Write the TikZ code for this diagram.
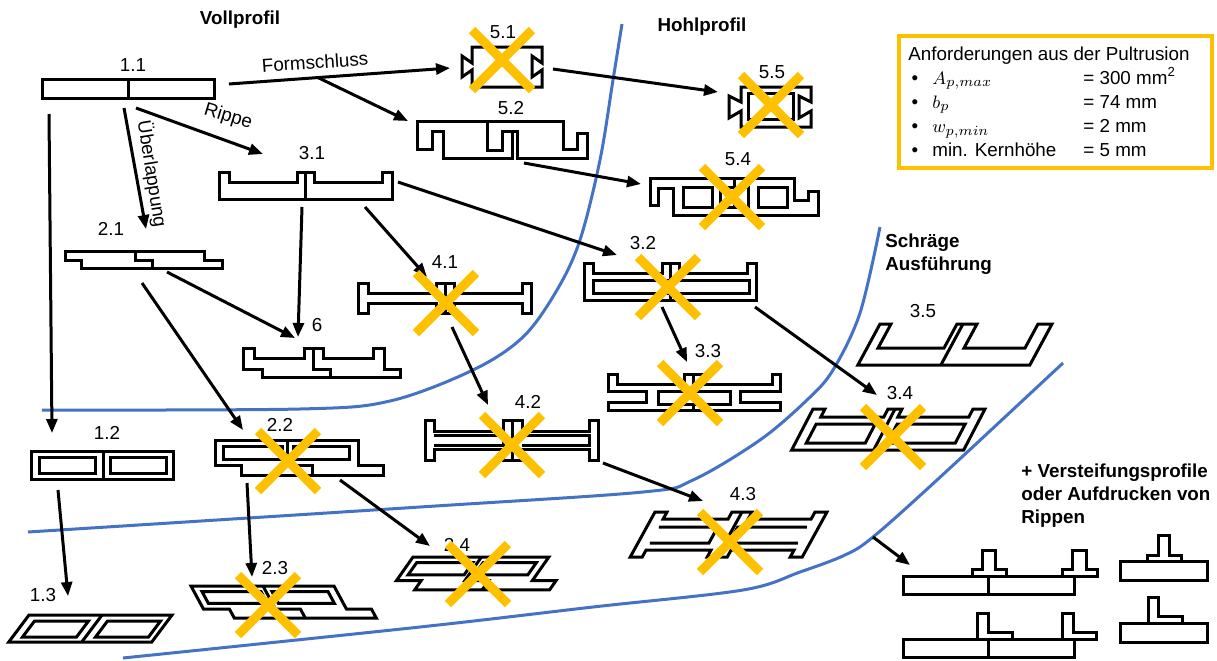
\documentclass[tikz,border=0pt]{standalone}
\usepackage{fontspec}
\setmainfont{Liberation Sans}
\usetikzlibrary{arrows.meta}
\definecolor{xblue}{RGB}{68,114,196}
\definecolor{xorange}{RGB}{255,192,0}
\newcommand\famTwo{%
  \draw[prof] (0,0) -- (143,0) -- (143,25) -- (168,25) -- (168,35) -- (26,35) -- (26,25) -- (0,25) -- cycle;
  \draw[prof] (8,6) -- (67,6) -- (67,19) -- (8,19) -- cycle;
  \draw[prof] (78,6) -- (134,6) -- (134,19) -- (78,19) -- cycle;
  \draw[prof] (72,0) -- (72,25) -- (97,25) -- (97,35);}
\begin{document}
\begin{tikzpicture}[x=0.5pt,y=-0.5pt,
  prof/.style={draw=black, line width=1.5pt, line join=miter},
  arr/.style={draw=black, line width=1.5pt, -{Triangle[length=7pt,width=5.5pt]}},
  cross/.style={draw=xorange, line width=4.5pt},
  bound/.style={draw=xblue, line width=1.5pt},
  lbl/.style={font=\fontsize{9.4}{11}\selectfont, inner sep=0pt},
  head/.style={font=\bfseries\fontsize{9.4}{11.4}\selectfont, inner sep=0pt, align=left}]
\useasboundingbox (0,0) rectangle (1217,660);

% ---------- boundaries ----------
\draw[bound] plot[smooth, tension=0.55] coordinates {(42,410) (300,409) (390,401) (473,370) (523,337) (557,290) (580,240) (600,160) (613,80) (622,24)};
\draw[bound] plot[smooth, tension=0.55] coordinates {(28,532) (420,507) (643,492) (693,480) (760,440) (807,400) (833,370) (860,313) (880,227)};
\draw[bound] plot[smooth, tension=0.55] coordinates {(123,658) (420,627) (593,607) (743,590) (800,572) (845,555) (873,537) (937,480) (1063,363)};

% ---------- headings ----------
\node[head] (hvoll) at (240,20) {Vollprofil};
\node[head] (hhohl) at (702,27) {Hohlprofil};
\node[head, anchor=west] (hschr) at (885,254.5) {Schräge\\Ausführung};
\node[head, anchor=west] (hverst) at (1021,495.5) {+ Versteifungsprofile\\oder Aufdrucken von\\Rippen};

% ---------- requirement box ----------
\draw[xorange, line width=1.8pt] (899,36) rectangle (1212,168);
\node[lbl, anchor=base west] (rq) at (908,60) {Anforderungen aus der Pultrusion};
\node[lbl, anchor=base] (rb1) at (915,84) {•};
\node[lbl, anchor=base] (rb2) at (915,108) {•};
\node[lbl, anchor=base] (rb3) at (915,132) {•};
\node[lbl, anchor=base] (rb4) at (915,156) {•};
\node[lbl, anchor=base west] (rm1) at (932,84) {$A_{p,max}$};
\node[lbl, anchor=base west] (rm2) at (932,108) {$b_p$};
\node[lbl, anchor=base west] (rm3) at (932,132) {$w_{p,min}$};
\node[lbl, anchor=base west] (rm4) at (932,156) {min. Kernhöhe};
\node[lbl, anchor=base west] (rv1) at (1083,84) {= 300 mm\textsuperscript{2}};
\node[lbl, anchor=base west] (rv2) at (1083,108) {= 74 mm};
\node[lbl, anchor=base west] (rv3) at (1083,132) {= 2 mm};
\node[lbl, anchor=base west] (rv4) at (1083,156) {= 5 mm};

% ---------- profiles ----------
% 1.1
\draw[prof] (42,79) rectangle (214,98);
\draw[prof] (128,79) -- (128,98);
% 2.1
\draw[prof] (65,251) -- (204,251) -- (204,260) -- (222,260) -- (222,268) -- (81,268) -- (81,260) -- (65,260) -- cycle;
\draw[prof] (135,251) -- (135,260) -- (152,260) -- (152,268);
% 3.1
\draw[prof] (219,199) -- (219,172) -- (229,172) -- (229,182) -- (297,182) -- (297,172) -- (314,172) -- (314,182) -- (382,182) -- (382,172) -- (392,172) -- (392,199) -- cycle;
\draw[prof] (305,172) -- (305,199);
% 6
\draw[prof] (243,348) -- (254,348) -- (254,358) -- (304,358) -- (304,348) -- (323,348) -- (323,358) -- (373,358) -- (373,348) -- (384,348) -- (384,369) -- (400,369) -- (400,377) -- (262,377) -- (262,369) -- (243,369) -- cycle;
\draw[prof] (313,348) -- (313,369) -- (330,369) -- (330,377);
% 1.2
\draw[prof] (31,451) rectangle (173,479);
\draw[prof] (103,451) -- (103,479);
\draw[prof] (39,457) rectangle (95,473);
\draw[prof] (110,457) rectangle (166,473);
% 1.3
\begin{scope}[shift={(29,615)}, xslant=0.75]
  \draw[prof] (0,0) -- (143,0) -- (143,27) -- (0,27) -- cycle;
  \draw[prof] (73,0) -- (73,27);
  \draw[prof] (10,6) -- (64,6) -- (64,22) -- (10,22) -- cycle;
  \draw[prof] (83,6) -- (136,6) -- (136,22) -- (83,22) -- cycle;
\end{scope}
% 2.2
\begin{scope}[shift={(215,440)}] \famTwo \end{scope}
% 2.3
\begin{scope}[shift={(191,586)}, xslant=-0.54, yscale=0.92] \famTwo \end{scope}
% 2.4
\begin{scope}[shift={(413,557)}, xslant=0.7, xscale=0.95, yscale=0.94] \famTwo \end{scope}
% 4.1
\draw[prof] (358,283) -- (368,283) -- (368,293) -- (436,293) -- (436,283) -- (454,283) -- (454,293) -- (522,293) -- (522,283) -- (531,283) -- (531,313) -- (522,313) -- (522,303) -- (454,303) -- (454,313) -- (436,313) -- (436,303) -- (368,303) -- (368,313) -- (358,313) -- cycle;
\draw[prof] (445,283) -- (445,313);
% 4.2
\draw[prof] (425,420) -- (434,420) -- (434,431) -- (503,431) -- (503,420) -- (522,420) -- (522,431) -- (589,431) -- (589,420) -- (598,420) -- (598,460) -- (589,460) -- (589,449) -- (522,449) -- (522,460) -- (503,460) -- (503,449) -- (434,449) -- (434,460) -- (425,460) -- cycle;
\draw[prof] (434,435) -- (503,435) -- (503,445) -- (434,445);
\draw[prof] (522,435) -- (589,435) -- (589,445) -- (522,445);
\draw[prof] (512,420) -- (512,460);
% 4.3
\begin{scope}[shift={(655,512)}, xslant=0.55]
  \draw[prof] (0,0) -- (12,0) -- (12,7) -- (77,7) -- (77,0) -- (97,0) -- (97,7) -- (160,7) -- (160,0) -- (172,0) -- (172,45) -- (160,45) -- (160,38) -- (97,38) -- (97,45) -- (77,45) -- (77,38) -- (12,38) -- (12,45) -- (0,45) -- cycle;
  \draw[prof] (12,15) -- (71,15) -- (71,31) -- (12,31);
  \draw[prof] (160,15) -- (91,15) -- (91,31) -- (160,31);
  \draw[prof] (87,0) -- (87,45);
\end{scope}
% 3.2
\draw[prof] (584,263) -- (593,263) -- (593,273) -- (662,273) -- (662,263) -- (679,263) -- (679,273) -- (747,273) -- (747,263) -- (756,263) -- (756,300) -- (584,300) -- cycle;
\draw[prof] (593,280) rectangle (749,293);
\draw[prof] (670,263) -- (670,300);
% 3.3
\draw[prof] (608,374) -- (617,374) -- (617,384) -- (684,384) -- (684,374) -- (703,374) -- (703,384) -- (772,384) -- (772,374) -- (780,374) -- (780,391) -- (740,391) -- (740,402) -- (780,402) -- (780,410) -- (608,410) -- (608,402) -- (646,402) -- (646,391) -- (608,391) -- cycle;
\draw[prof] (658,391) rectangle (730,404);
\draw[prof] (693,374) -- (693,391);
\draw[prof] (693,404) -- (693,410);
% 3.4
\begin{scope}[shift={(813,409)}, xslant=0.52]
  \draw[prof] (0,0) -- (12,0) -- (12,8) -- (75,8) -- (75,0) -- (89,0) -- (89,8) -- (160,8) -- (160,0) -- (172,0) -- (172,41) -- (0,41) -- cycle;
  \draw[prof] (11,15) -- (70,15) -- (70,34) -- (11,34) -- cycle;
  \draw[prof] (92,15) -- (160,15) -- (160,34) -- (92,34) -- cycle;
  \draw[prof] (82,0) -- (82,41);
\end{scope}
% 3.5
\begin{scope}[shift={(880,324)}, xslant=0.54]
  \draw[prof] (0,0) -- (11,0) -- (11,24) -- (77,24) -- (77,0) -- (97,0) -- (97,24) -- (158,24) -- (158,0) -- (172,0) -- (172,41) -- (0,41) -- cycle;
  \draw[prof] (83,0) -- (83,41);
\end{scope}
% 5.1
\draw[prof] (472,47) -- (542,47) -- (542,63) -- (532,56) -- (532,77) -- (542,70) -- (542,87) -- (472,87) -- (472,70) -- (462,77) -- (462,56) -- (472,63) -- cycle;
% 5.5
\draw[prof] (741,87) -- (811,87) -- (811,102) -- (799,96) -- (799,118) -- (811,111) -- (811,127) -- (741,127) -- (741,111) -- (729,118) -- (729,96) -- (741,102) -- cycle;
\draw[prof] (748,93) rectangle (793,119);
% 5.2
\draw[prof] (417,121) -- (563,121) -- (563,149) -- (577,149) -- (577,133) -- (587,133) -- (587,158) -- (517,158) -- (517,131) -- (512,131) -- (512,158) -- (443,158) -- (443,131) -- (432,131) -- (432,149) -- (417,149) -- cycle;
\draw[prof] (487,121) -- (487,150) -- (502,150) -- (502,131) -- (512,131);
% 5.4
\draw[prof] (650,178) -- (794,178) -- (794,200) -- (808,200) -- (808,191) -- (818,191) -- (818,215) -- (673,215) -- (673,188) -- (658,188) -- (658,205) -- (650,205) -- cycle;
\draw[prof] (683,187) rectangle (712,207);
\draw[prof] (720,187) rectangle (748,207);
\draw[prof] (758,187) rectangle (787,207);
\draw[prof] (734,178) -- (734,207);
% stiffening profiles
\draw[prof] (903,576) rectangle (1074,594);
\draw[prof] (988,576) -- (988,594);
\draw[prof] (972,576) -- (972,569) -- (982,569) -- (982,550) -- (995,550) -- (995,569) -- (1006,569) -- (1006,576);
\draw[prof] (1062,576) -- (1062,569) -- (1072,569) -- (1072,550) -- (1086,550) -- (1086,569) -- (1097,569) -- (1097,576) -- (1074,576);
\draw[prof] (903,639) rectangle (1074,657);
\draw[prof] (988,639) -- (988,657);
\draw[prof] (977,639) -- (977,613) -- (988,613) -- (988,632) -- (1012,632) -- (1012,639);
\draw[prof] (1062,639) -- (1062,613) -- (1073,613) -- (1073,632) -- (1096,632) -- (1096,639) -- (1074,639);
\draw[prof] (1120,561) rectangle (1207,580);
\draw[prof] (1147,561) -- (1147,555) -- (1158,555) -- (1158,535) -- (1169,535) -- (1169,555) -- (1181,555) -- (1181,561);
\draw[prof] (1120,623) rectangle (1207,642);
\draw[prof] (1148,623) -- (1148,597) -- (1158,597) -- (1158,616) -- (1182,616) -- (1182,623);

% ---------- labels ----------
\node[lbl] (n11) at (133,65) {1.1};
\node[lbl] (n21) at (111,229) {2.1};
\node[lbl] (n31) at (312,153) {3.1};
\node[lbl] (n6) at (317,325) {6};
\node[lbl] (n12) at (107,433) {1.2};
\node[lbl] (n22) at (280,425) {2.2};
\node[lbl] (n13) at (43,595) {1.3};
\node[lbl] (n23) at (275,568) {2.3};
\node[lbl] (n24) at (457,545) {2.4};
\node[lbl] (n41) at (445,262) {4.1};
\node[lbl] (n42) at (528,402) {4.2};
\node[lbl] (n43) at (743,494) {4.3};
\node[lbl] (n32) at (643,243) {3.2};
\node[lbl] (n33) at (708,351) {3.3};
\node[lbl] (n34) at (900,393) {3.4};
\node[lbl] (n35) at (923,311) {3.5};
\node[lbl] (n51) at (503,32) {5.1};
\node[lbl] (n52) at (511,108) {5.2};
\node[lbl] (n54) at (738,159) {5.4};
\node[lbl] (n55) at (772,72) {5.5};
\node[lbl, rotate=4] (tform) at (315,62) {Formschluss};
\node[lbl, rotate=-17] (tripp) at (228,117) {Rippe};
\node[lbl, rotate=-81] (tuebl) at (152,174) {Überlappung};

% ---------- arrows ----------
\coordinate (a1s) at (229,84);   \coordinate (a1e) at (450,68);
\coordinate (a2s) at (318,77.6); \coordinate (a2e) at (408,121);
\coordinate (a3s) at (136,108);  \coordinate (a3e) at (263,154);
\coordinate (a4s) at (124,108);  \coordinate (a4e) at (146,229);
\coordinate (a5s) at (49,114);   \coordinate (a5e) at (52,433);
\coordinate (a6s) at (553,69);   \coordinate (a6e) at (718,92);
\coordinate (a7s) at (524,163);  \coordinate (a7e) at (641,184);
\coordinate (a8s) at (398,182);  \coordinate (a8e) at (617,255);
\coordinate (a9s) at (365,207);  \coordinate (a9e) at (427,277);
\coordinate (a10s) at (302,207); \coordinate (a10e) at (298,337);
\coordinate (a11s) at (167,272); \coordinate (a11e) at (295,338);
\coordinate (a12s) at (142,283); \coordinate (a12e) at (243,430);
\coordinate (a13s) at (452,327); \coordinate (a13e) at (488,405);
\coordinate (a14s) at (662,307); \coordinate (a14e) at (687,362);
\coordinate (a15s) at (755,307); \coordinate (a15e) at (877,395);
\coordinate (a16s) at (603,463); \coordinate (a16e) at (703,501);
\coordinate (a17s) at (58,490);  \coordinate (a17e) at (68,596);
\coordinate (a18s) at (247,483); \coordinate (a18e) at (252,577);
\coordinate (a19s) at (340,480); \coordinate (a19e) at (430,546);
\coordinate (a20s) at (873,537); \coordinate (a20e) at (910,565);
\foreach \i in {1,...,20} {\draw[arr] (a\i s) -- (a\i e);}

% ---------- crosses ----------
\foreach \xa/\ya in {472/30, 741/75, 702/167, 416/273, 638/257, 660/363, 482/415, 863/407, 258/431, 238/575, 448/544, 700/512} {
  \draw[cross] (\xa,\ya) -- ++(60,60);
  \draw[cross] (\xa+60,\ya) -- ++(-60,60);
}
\end{tikzpicture}
\end{document}
